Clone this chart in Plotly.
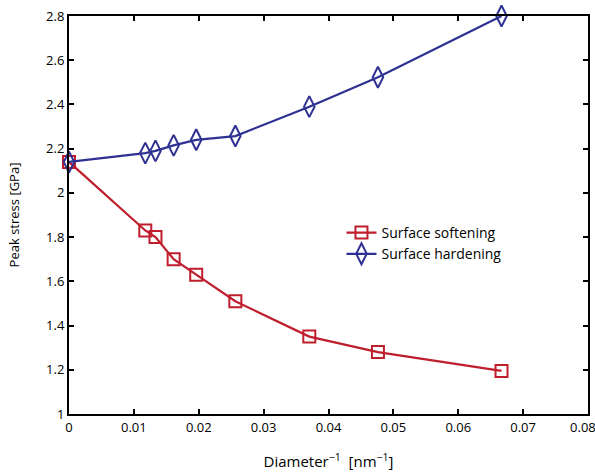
import plotly.graph_objects as go

inv_diameter = [0.0, 0.01176, 0.01333, 0.01613, 0.01961, 0.02564, 0.03704, 0.04762, 0.06667]
softening = [2.14, 1.83, 1.80, 1.70, 1.63, 1.51, 1.35, 1.28, 1.195]
hardening = [2.14, 2.18, 2.19, 2.215, 2.24, 2.257, 2.39, 2.523, 2.80]

x_ticks = [0, 0.01, 0.02, 0.03, 0.04, 0.05, 0.06, 0.07, 0.08]
x_tick_text = ["0", "0.01", "0.02", "0.03", "0.04", "0.05", "0.06", "0.07", "0.08\u00a0\u00a0\u00a0"]
y_ticks = [1, 1.2, 1.4, 1.6, 1.8, 2, 2.2, 2.4, 2.6, 2.8]
y_tick_text = ["1", "1.2", "1.4", "1.6", "1.8", "2", "2.2", "2.4", "2.6", "2.8"]

red = "#BF1E2D"
blue = "#2E3192"
font_family = "Open Sans, sans-serif"

fig = go.Figure()
fig.add_trace(go.Scatter(
    x=inv_diameter, y=softening, mode="lines+markers", name="Surface softening",
    line=dict(color=red, width=2.2), cliponaxis=False,
    marker=dict(symbol="square-open", size=12, color=red, line=dict(width=2, color=red)),
))
fig.add_trace(go.Scatter(
    x=inv_diameter, y=hardening, mode="lines+markers", name="Surface hardening",
    line=dict(color=blue, width=2.2), cliponaxis=False,
    marker=dict(symbol="diamond-tall-open", size=15, color=blue, line=dict(width=2, color=blue)),
))

axis_common = dict(
    showline=True, linecolor="black", linewidth=2, mirror="ticks",
    ticks="inside", ticklen=5, tickcolor="black", tickwidth=1.5,
    showgrid=False, zeroline=False, ticklabeloverflow="allow", automargin=False,
    tickfont=dict(family=font_family, size=13, color="black"),
)

fig.update_layout(
    width=595, height=472,
    margin=dict(l=69, r=7, t=16, b=58, autoexpand=False),
    paper_bgcolor="white", plot_bgcolor="white",
    font=dict(family=font_family, color="black"),
    xaxis=dict(range=[0, 0.08], tickvals=x_ticks, ticktext=x_tick_text,
               title=dict(text="Diameter<sup>−1</sup>  [nm<sup>−1</sup>]", font=dict(size=15), standoff=22),
               **axis_common),
    yaxis=dict(range=[1, 2.8], tickvals=y_ticks, ticktext=y_tick_text,
               title=dict(text="Peak stress [GPa]", font=dict(size=13), standoff=24),
               **axis_common),
    legend=dict(x=0.525, y=0.495, xanchor="left", yanchor="top",
                bgcolor="rgba(255,255,255,0)", borderwidth=0, tracegroupgap=0,
                font=dict(size=14, family=font_family)),
    showlegend=True,
)

fig.write_html("out.html")
